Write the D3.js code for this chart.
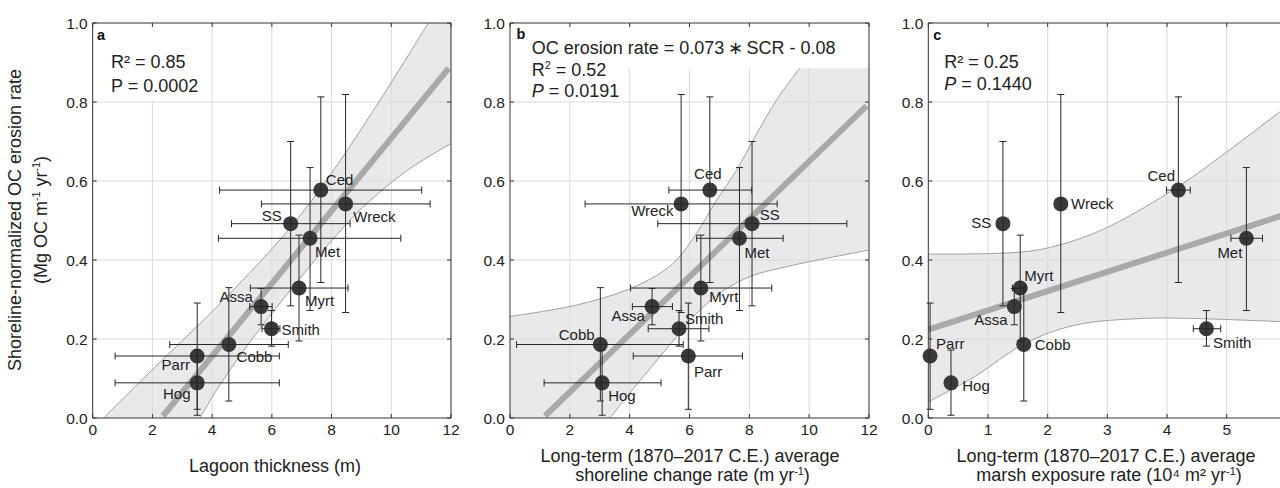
<!DOCTYPE html>
<html>
<head>
<meta charset="utf-8">
<script src="https://cdn.jsdelivr.net/npm/d3@7"></script>
<style>
  body { margin: 0; background: #fff; }
  svg { display: block; font-family: "Liberation Sans", Arial, sans-serif; }
</style>
</head>
<body>
<svg id="chart" width="1280" height="488"></svg>
<script>
// ---- data ----
var sites = ["Ced", "Wreck", "SS", "Met", "Myrt", "Assa", "Smith", "Cobb", "Parr", "Hog"];

// shoreline-normalized OC erosion rate (Mg OC m-1 yr-1), same for all panels
var ocRate = [0.577, 0.542, 0.492, 0.455, 0.329, 0.282, 0.226, 0.186, 0.157, 0.089];
var ocLow  = [0.343, 0.267, 0.284, 0.272, 0.195, 0.236, 0.182, 0.043, 0.022, 0.007];
var ocHigh = [0.813, 0.819, 0.700, 0.634, 0.463, 0.328, 0.272, 0.330, 0.291, 0.172];

// a: lagoon thickness (m)
var lagoon     = [7.64, 8.47, 6.63, 7.28, 6.91, 5.64, 5.99, 4.56, 3.50, 3.50];
var lagoonLow  = [4.25, 5.65, 4.65, 4.21, 5.28, 5.26, 5.67, 2.58, 0.75, 0.75];
var lagoonHigh = [11.02, 11.30, 8.62, 10.32, 8.55, 6.01, 6.27, 6.55, 6.25, 6.25];

// b: long-term shoreline change rate (m yr-1)
var scr     = [6.68, 5.72, 8.09, 7.67, 6.38, 4.75, 5.65, 3.02, 5.96, 3.08];
var scrLow  = [5.31, 2.51, 4.94, 6.24, 4.03, 4.09, 4.62, 0.22, 4.12, 1.14];
var scrHigh = [8.08, 8.93, 11.26, 9.13, 8.75, 5.43, 6.65, 5.79, 7.77, 5.05];

// c: long-term marsh exposure rate (10^4 m2 yr-1)
var marsh     = [4.19, 2.22, 1.25, 5.33, 1.54, 1.44, 4.66, 1.60, 0.03, 0.38];
var marshLow  = [3.99, 2.22, 1.25, 5.07, 1.41, 1.44, 4.44, 1.60, 0.03, 0.38];
var marshHigh = [4.39, 2.22, 1.25, 5.60, 1.62, 1.44, 4.90, 1.60, 0.03, 0.38];

// regression lines and confidence band edges [x, y]
var fitA = [[2.35, 0.005], [11.92, 0.885]];
var fitB = [[1.17, 0.005], [11.92, 0.790]];
var fitC = [[0, 0.224], [6, 0.516]];

var bandAUpper = [[0.36, 0], [2.1, 0.13], [4.4, 0.30], [6.6, 0.48], [8.0, 0.62], [9.5, 0.79], [11.24, 1.0]];
var bandALower = [[3.6, 0], [4.1, 0.065], [5.0, 0.165], [5.9, 0.255], [6.9, 0.35], [7.9, 0.44], [9.0, 0.53], [10.5, 0.625], [12, 0.695]];
var bandBUpper = [[0, 0.257], [2.23, 0.286], [3.90, 0.324], [5.01, 0.366], [5.57, 0.400], [6.24, 0.468], [6.91, 0.552], [7.58, 0.628], [8.13, 0.704], [8.91, 0.805], [9.69, 0.886]];
var bandBLower = [[3.34, 0], [4.46, 0.105], [5.57, 0.206], [6.24, 0.265], [7.13, 0.322], [8.02, 0.358], [9.47, 0.387], [12, 0.425]];
var bandCUpper = [[0, 0.415], [1.62, 0.421], [2.29, 0.442], [3.02, 0.484], [4.19, 0.586], [4.97, 0.670], [5.89, 0.775]];
var bandCLower = [[0, 0.041], [0.78, 0.105], [1.62, 0.189], [2.46, 0.235], [3.58, 0.252], [4.41, 0.252], [5.89, 0.244]];

var yTicks = [0, 0.2, 0.4, 0.6, 0.8, 1.0];
var yTickLabels = ["0.0", "0.2", "0.4", "0.6", "0.8", "1.0"];
var xTicksAB = [0, 2, 4, 6, 8, 10, 12];
var xTicksC = [0, 1, 2, 3, 4, 5];

// ---- label placement (px offsets from point) ----
var labA = {Ced:[5,-5,"start"], Wreck:[7.7,17.7,"start"], SS:[-9,-3,"end"], Met:[5,18.3,"start"], Myrt:[6,17.7,"start"],
            Assa:[-8.3,-5,"end"], Smith:[10,6,"start"], Cobb:[7.7,17.3,"start"], Parr:[-7.3,14.3,"end"], Hog:[-6.7,15.7,"end"]};
var labB = {Ced:[-2,-10.7,"middle"], Wreck:[-7.7,12,"end"], SS:[7.7,-3.3,"start"], Met:[5,20,"start"], Myrt:[8.3,14.3,"start"],
            Assa:[-7.3,14.3,"end"], Smith:[6,-4.7,"start"], Cobb:[-5.7,-5,"end"], Parr:[5.7,21,"start"], Hog:[6,18.3,"start"]};
var labC = {Ced:[-3.3,-9.3,"end"], Wreck:[10.3,5.3,"start"], SS:[-11.7,4,"end"], Met:[-4,20,"end"], Myrt:[4,-7.3,"start"],
            Assa:[-6.7,18,"end"], Smith:[6.7,19,"start"], Cobb:[11,5,"start"], Parr:[6,-7.3,"start"], Hog:[11.3,8.3,"start"]};

var svg = d3.select("#chart");
var plotTop = 23, plotBottom = 418;
var y = d3.scaleLinear().domain([0, 1]).range([plotBottom, plotTop]);

var panels = [
  { key: "a", left: 92.7, right: 451, domain: [0, 12], ticks: xTicksAB,
    xv: lagoon, xlo: lagoonLow, xhi: lagoonHigh, fit: fitA,
    upper: bandAUpper, lower: bandALower, mid: [[12, 1.0]], tail: [],
    labels: labA, letterX: 97, letterY: 39.5,
    boxes: [[93, 23, 115, 78]],
    noteX: 111, notes: [
      {y: 67.7, parts: [{t: "R² = 0.85"}]},
      {y: 91.7, parts: [{t: "P = 0.0002"}]}],
    titles: [{x: 275, y: 471.7, parts: [{t: "Lagoon thickness (m)"}]}] },
  { key: "b", left: 510, right: 869, domain: [0, 12], ticks: xTicksAB,
    xv: scr, xlo: scrLow, xhi: scrHigh, fit: fitB,
    upper: bandBUpper, lower: bandBLower, mid: [[12, 0.886]], tail: [[0, 0]],
    labels: labB, letterX: 516.5, letterY: 38.5,
    boxes: [[510, 23, 359, 45.3], [510, 68, 110, 33]],
    noteX: 531.7, notes: [
      {y: 54, parts: [{t: "OC erosion rate = 0.073\u2009\u2217\u2009SCR - 0.08"}]},
      {y: 75.5, parts: [{t: "R"}, {t: "2", sup: true}, {t: " = 0.52"}]},
      {y: 97, parts: [{t: "P", it: true}, {t: " = 0.0191"}]}],
    titles: [{x: 690, y: 462.3, parts: [{t: "Long-term (1870–2017 C.E.) average"}]},
             {x: 692.5, y: 481, parts: [{t: "shoreline change rate (m yr"}, {t: "-1", sup: true}, {t: ")"}]}] },
  { key: "c", left: 928.3, right: 928.3 + 6 * 59.68, domain: [0, 6], ticks: xTicksC,
    xv: marsh, xlo: marshLow, xhi: marshHigh, fit: fitC,
    upper: bandCUpper, lower: bandCLower, mid: [], tail: [],
    labels: labC, letterX: 933.3, letterY: 39.5,
    boxes: [[928.3, 23, 109, 77]],
    noteX: 944.3, notes: [
      {y: 67.7, parts: [{t: "R² = 0.25"}]},
      {y: 90, parts: [{t: "P", it: true}, {t: " = 0.1440"}]}],
    titles: [{x: 1106, y: 462.3, parts: [{t: "Long-term (1870–2017 C.E.) average"}]},
             {x: 1109, y: 481, parts: [{t: "marsh exposure rate (10⁴ m² yr"}, {t: "-1", sup: true}, {t: ")"}]}] }
];

// text with superscript / italic runs
function rich(sel, parts, fs) {
  var shift = 0;
  parts.forEach(function(p) {
    var t = sel.append("tspan").text(p.t);
    var target = p.sup ? -fs * 0.36 : 0;
    if (target !== shift) { t.attr("dy", target - shift); shift = target; }
    if (p.sup) t.attr("font-size", fs * 0.6);
    if (p.it) t.attr("font-style", "italic");
  });
}

var defs = svg.append("defs");

panels.forEach(function(p) {
  var x = d3.scaleLinear().domain(p.domain).range([p.left, p.right]);
  var g = svg.append("g").attr("class", "panel-" + p.key);

  defs.append("clipPath").attr("id", "clip-" + p.key)
    .append("rect")
    .attr("x", p.left).attr("y", plotTop)
    .attr("width", p.right - p.left).attr("height", plotBottom - plotTop);

  var plot = g.append("g").attr("clip-path", "url(#clip-" + p.key + ")");

  // confidence band
  var line = d3.line().x(function(d) { return x(d[0]); }).y(function(d) { return y(d[1]); })
    .curve(d3.curveCatmullRom.alpha(0.5));
  var up = line(p.upper);
  var lo = line(p.lower.slice().reverse());
  var corner = function(c) { return "L" + x(c[0]) + "," + y(c[1]); };
  var d = up + p.mid.map(corner).join("") + "L" + lo.slice(1) + p.tail.map(corner).join("") + "Z";
  plot.append("path").attr("d", d).attr("fill", "#e9e9eb").attr("stroke", "none");

  // grid
  plot.append("g").selectAll("line").data(p.ticks.filter(function(t) { return t > p.domain[0]; }))
    .enter().append("line")
    .attr("x1", function(t) { return x(t); }).attr("x2", function(t) { return x(t); })
    .attr("y1", plotTop).attr("y2", plotBottom)
    .attr("stroke", "#dadada").attr("stroke-width", 1);
  plot.append("g").selectAll("line").data(yTicks.slice(1, -1))
    .enter().append("line")
    .attr("x1", p.left).attr("x2", p.right)
    .attr("y1", function(t) { return y(t); }).attr("y2", function(t) { return y(t); })
    .attr("stroke", "#dadada").attr("stroke-width", 1);

  // band edges
  [p.upper, p.lower].forEach(function(edge) {
    plot.append("path").attr("d", line(edge))
      .attr("fill", "none").attr("stroke", "#8a8a8a").attr("stroke-width", 0.8);
  });

  // text background boxes
  p.boxes.forEach(function(b) {
    plot.append("rect").attr("x", b[0]).attr("y", b[1]).attr("width", b[2]).attr("height", b[3])
      .attr("fill", "#fff");
  });

  // regression line
  plot.append("line")
    .attr("x1", x(p.fit[0][0])).attr("y1", y(p.fit[0][1]))
    .attr("x2", x(p.fit[1][0])).attr("y2", y(p.fit[1][1]))
    .attr("stroke", "#a9a9a9").attr("stroke-width", 6);

  // points
  g.append("g").selectAll("circle").data(sites)
    .enter().append("circle")
    .attr("cx", function(s, i) { return x(p.xv[i]); })
    .attr("cy", function(s, i) { return y(ocRate[i]); })
    .attr("r", 7.5)
    .attr("fill", "#3a3a3a");

  // error bars
  var eb = g.append("g").attr("stroke", "#262626").attr("stroke-width", 1).attr("fill", "none");
  var cap = 3.5;
  sites.forEach(function(s, i) {
    var cx = x(p.xv[i]), cy = y(ocRate[i]);
    var yl = y(ocLow[i]), yh = y(ocHigh[i]);
    eb.append("line").attr("x1", cx).attr("x2", cx).attr("y1", yl).attr("y2", yh);
    eb.append("line").attr("x1", cx - cap).attr("x2", cx + cap).attr("y1", yl).attr("y2", yl);
    eb.append("line").attr("x1", cx - cap).attr("x2", cx + cap).attr("y1", yh).attr("y2", yh);
    var xl = x(p.xlo[i]), xh = x(p.xhi[i]);
    if (xh - xl > 2) {
      eb.append("line").attr("x1", xl).attr("x2", xh).attr("y1", cy).attr("y2", cy);
      eb.append("line").attr("x1", xl).attr("x2", xl).attr("y1", cy - cap).attr("y2", cy + cap);
      eb.append("line").attr("x1", xh).attr("x2", xh).attr("y1", cy - cap).attr("y2", cy + cap);
    }
  });

  // point labels
  g.append("g").selectAll("text").data(sites)
    .enter().append("text")
    .attr("x", function(s, i) { return x(p.xv[i]) + p.labels[s][0]; })
    .attr("y", function(s, i) { return y(ocRate[i]) + p.labels[s][1]; })
    .attr("text-anchor", function(s) { return p.labels[s][2]; })
    .attr("font-size", 15).attr("fill", "#222")
    .text(function(s) { return s; });

  // axes frame and ticks
  var ax = g.append("g").attr("stroke", "#333").attr("stroke-width", 1);
  ax.append("line").attr("x1", p.left).attr("x2", p.left).attr("y1", plotTop).attr("y2", plotBottom);
  ax.append("line").attr("x1", p.left).attr("x2", p.right).attr("y1", plotBottom).attr("y2", plotBottom);
  ax.append("line").attr("x1", p.left).attr("x2", p.right).attr("y1", plotTop).attr("y2", plotTop);
  ax.append("line").attr("x1", p.right).attr("x2", p.right).attr("y1", plotTop).attr("y2", plotBottom);
  var tl = 4;
  p.ticks.forEach(function(t) {
    ax.append("line").attr("x1", x(t)).attr("x2", x(t)).attr("y1", plotBottom).attr("y2", plotBottom - tl);
    ax.append("line").attr("x1", x(t)).attr("x2", x(t)).attr("y1", plotTop).attr("y2", plotTop + tl);
  });
  yTicks.forEach(function(t) {
    ax.append("line").attr("x1", p.left).attr("x2", p.left + tl).attr("y1", y(t)).attr("y2", y(t));
    ax.append("line").attr("x1", p.right).attr("x2", p.right - tl).attr("y1", y(t)).attr("y2", y(t));
  });

  // tick labels
  g.append("g").selectAll("text").data(p.ticks)
    .enter().append("text")
    .attr("x", function(t) { return x(t); }).attr("y", 435)
    .attr("text-anchor", "middle").attr("font-size", 15.5).attr("fill", "#222")
    .text(function(t) { return t; });
  g.append("g").selectAll("text").data(yTicks)
    .enter().append("text")
    .attr("x", p.left - 5).attr("y", function(t) { return y(t); })
    .attr("dy", "0.36em")
    .attr("text-anchor", "end").attr("font-size", 15.5).attr("fill", "#222")
    .text(function(t, i) { return yTickLabels[i]; });

  // panel letter and notes
  g.append("text").attr("x", p.letterX).attr("y", p.letterY)
    .attr("font-size", 14.5).attr("font-weight", "bold").attr("fill", "#111")
    .text(p.key);
  p.notes.forEach(function(n) {
    var t = g.append("text").attr("x", p.noteX).attr("y", n.y)
      .attr("font-size", 18).attr("fill", "#222");
    rich(t, n.parts, 18);
  });

  // x title
  p.titles.forEach(function(n) {
    var t = g.append("text").attr("x", n.x).attr("y", n.y)
      .attr("text-anchor", "middle").attr("font-size", 18).attr("fill", "#222");
    rich(t, n.parts, 18);
  });
});

// y title
var yt1 = svg.append("text").attr("transform", "translate(20.5,220) rotate(-90)")
  .attr("text-anchor", "middle").attr("font-size", 18).attr("fill", "#222");
rich(yt1, [{t: "Shoreline-normalized OC erosion rate"}], 18);
var yt2 = svg.append("text").attr("transform", "translate(46.5,220) rotate(-90)")
  .attr("text-anchor", "middle").attr("font-size", 18).attr("fill", "#222");
rich(yt2, [{t: "(Mg OC m"}, {t: "-1", sup: true}, {t: " yr"}, {t: "-1", sup: true}, {t: ")"}], 18);
</script>
</body>
</html>
